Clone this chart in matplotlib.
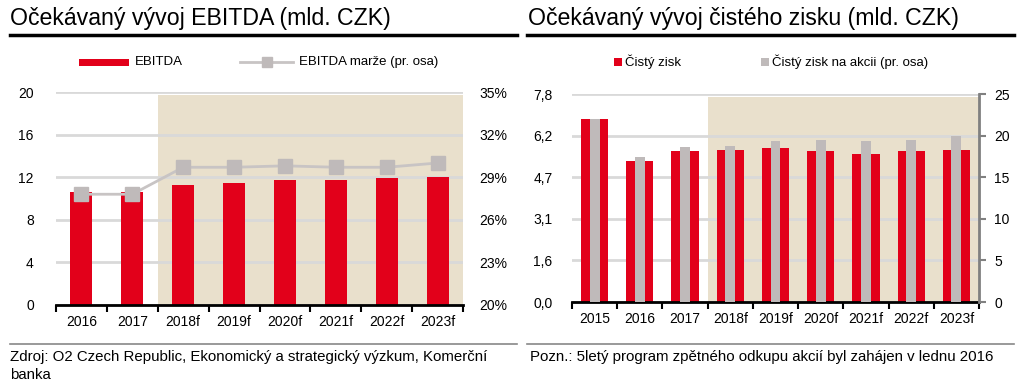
import matplotlib
matplotlib.use("Agg")
import matplotlib.pyplot as plt
from matplotlib.lines import Line2D
from matplotlib.patches import Rectangle
import numpy as np
from matplotlib import font_manager

plt.rcParams['font.family'] = ['Liberation Sans', 'DejaVu Sans']
names = {f.name for f in font_manager.fontManager.ttflist}
NARROW = ['Liberation Sans Narrow', 'Liberation Sans', 'DejaVu Sans'] if 'Liberation Sans Narrow' in names else ['Liberation Sans', 'DejaVu Sans']

# ---- data ----
ebitda_years = ["2016", "2017", "2018f", "2019f", "2020f", "2021f", "2022f", "2023f"]
ebitda = [10.6, 10.6, 11.3, 11.5, 11.7, 11.7, 11.9, 12.0]
ebitda_margin = [27.8, 27.8, 29.7, 29.7, 29.8, 29.7, 29.7, 30.0]
ebitda_left_ticks = [0, 4, 8, 12, 16, 20]
ebitda_right_ticks = [20, 23, 26, 29, 32, 35]

np_years = ["2015", "2016", "2017", "2018f", "2019f", "2020f", "2021f", "2022f", "2023f"]
net_profit = [6.87, 5.28, 5.65, 5.71, 5.79, 5.67, 5.56, 5.67, 5.71]
eps = [22.0, 17.4, 18.6, 18.8, 19.3, 19.5, 19.3, 19.5, 19.9]
np_left_ticks = [0.0, 1.56, 3.12, 4.68, 6.24, 7.8]
np_left_labels = ["0,0", "1,6", "3,1", "4,7", "6,2", "7,8"]
np_right_ticks = [0, 5, 10, 15, 20, 25]

title_left = "Očekávaný vývoj EBITDA (mld. CZK)"
title_right = "Očekávaný vývoj čistého zisku (mld. CZK)"
source_left = "Zdroj: O2 Czech Republic, Ekonomický a strategický výzkum, Komerční\nbanka"
source_right = "Pozn.: 5letý program zpětného odkupu akcií byl zahájen v lednu 2016"

RED = '#e2001a'
GRAY = '#bfbaba'
LINEGRAY = '#c8c4c4'
BEIGE = '#e9e0cc'
GRID = '#d9d9d9'
W, H = 1024, 392

fig = plt.figure(figsize=(10.24, 3.92), dpi=100)

def fx(px): return px / W
def fy(py): return 1 - py / H

# titles and rules
fig.text(fx(10), fy(18), title_left, fontsize=16.7, va='center', ha='left')
fig.text(fx(528), fy(18), title_right, fontsize=16.7, va='center', ha='left')
fig.add_artist(Line2D([fx(10), fx(517)], [fy(35), fy(35)], color='black', lw=2.5))
fig.add_artist(Line2D([fx(527), fx(1014)], [fy(35), fy(35)], color='black', lw=2.5))
fig.add_artist(Line2D([fx(10), fx(517)], [fy(344), fy(344)], color='#888888', lw=1.2))
fig.add_artist(Line2D([fx(527), fx(1014)], [fy(344), fy(344)], color='#888888', lw=1.2))
fig.text(fx(10), fy(350), source_left, fontsize=10.8, va='top', ha='left', family=NARROW, linespacing=1.4)
fig.text(fx(530), fy(350), source_right, fontsize=10.8, va='top', ha='left', family=NARROW)

# ---- left chart ----
ax = fig.add_axes([fx(56), fy(305), fx(463 - 56), (305 - 92) / H])
x = np.arange(len(ebitda_years))
ax.axvspan(1.5, len(x) - 0.5, ymin=0, ymax=0.985, color=BEIGE, lw=0, zorder=0)
for t in ebitda_left_ticks:
    ax.axhline(t, color=GRID, lw=2, zorder=1)
ax.bar(x, ebitda, width=0.43, color=RED, zorder=2)
ax.set_xlim(-0.5, len(x) - 0.5)
ax.set_ylim(0, 20)
ax.set_yticks(ebitda_left_ticks)
ax.set_yticklabels([str(t) for t in ebitda_left_ticks])
ax.tick_params(axis='y', length=0, labelsize=10, pad=16)
ax.set_xticks(np.arange(-0.5, len(x), 1.0))
ax.set_xticklabels([])
ax.set_xticks(x, minor=True)
ax.set_xticklabels(ebitda_years, minor=True, family=NARROW, fontsize=10)
ax.tick_params(axis='x', which='major', length=5, width=1.5, color='black', direction='out')
ax.tick_params(axis='x', which='minor', length=0, pad=7)
for s in ['left', 'right', 'top']:
    ax.spines[s].set_visible(False)
ax.spines['bottom'].set_linewidth(2)
ax.spines['bottom'].set_zorder(5)

ax2 = ax.twinx()
ax2.plot(x, ebitda_margin, color=LINEGRAY, lw=2, marker='s', markersize=10,
         markerfacecolor=GRAY, markeredgecolor=GRAY, zorder=3)
ax2.set_ylim(20, 35)
ax2.set_yticks(ebitda_right_ticks)
ax2.set_yticklabels([f"{t}%" for t in ebitda_right_ticks])
ax2.tick_params(axis='y', length=0, labelsize=10, pad=12)
for s in ['left', 'right', 'top', 'bottom']:
    ax2.spines[s].set_visible(False)

# legend left
fig.add_artist(Rectangle((fx(79), fy(66)), fx(50), 7 / H, color=RED, lw=0))
fig.text(fx(135), fy(62), "EBITDA", fontsize=9.5, va='center', family=NARROW)
fig.add_artist(Line2D([fx(240), fx(293)], [fy(62), fy(62)], color=LINEGRAY, lw=2))
fig.add_artist(Line2D([fx(266.5)], [fy(62)], color=GRAY, marker='s', markersize=7, lw=0))
fig.text(fx(299), fy(62), "EBITDA marže (pr. osa)", fontsize=9.5, va='center', family=NARROW)

# ---- right chart ----
bx = fig.add_axes([fx(572), fy(302), fx(979 - 572), (302 - 94) / H])
x2 = np.arange(len(np_years))
bx.axvspan(2.5, len(x2) - 0.5, ymin=0, ymax=0.985, color=BEIGE, lw=0, zorder=0)
for t in np_left_ticks:
    bx.axhline(t, color=GRID, lw=2, zorder=1)
bx.bar(x2, net_profit, width=0.6, color=RED, zorder=2)
bx.set_xlim(-0.5, len(x2) - 0.5)
bx.set_ylim(0, 7.8)
bx.set_yticks(np_left_ticks)
bx.set_yticklabels(np_left_labels)
bx.tick_params(axis='y', length=0, labelsize=10, pad=14)
bx.set_xticks(np.arange(-0.5, len(x2), 1.0))
bx.set_xticklabels([])
bx.set_xticks(x2, minor=True)
bx.set_xticklabels(np_years, minor=True, family=NARROW, fontsize=10)
bx.tick_params(axis='x', which='major', length=5, width=1.5, color='black', direction='out')
bx.tick_params(axis='x', which='minor', length=0, pad=7)
for s in ['left', 'right', 'top']:
    bx.spines[s].set_visible(False)
bx.spines['bottom'].set_linewidth(2)
bx.spines['bottom'].set_zorder(5)

bx2 = bx.twinx()
bx2.bar(x2, eps, width=0.22, color=GRAY, zorder=3)
bx2.set_ylim(0, 25)
bx2.set_yticks(np_right_ticks)
bx2.tick_params(axis='y', length=5, width=1.5, color='#808080', labelsize=10, pad=6)
for s in ['left', 'top', 'bottom']:
    bx2.spines[s].set_visible(False)
bx2.spines['right'].set_color('#808080')
bx2.spines['right'].set_linewidth(2)

# legend right
fig.add_artist(Rectangle((fx(614), fy(66)), 8 / W, 8 / H, color=RED, lw=0))
fig.text(fx(625), fy(62), "Čistý zisk", fontsize=9.5, va='center', family=NARROW)
fig.add_artist(Rectangle((fx(761), fy(66)), 8 / W, 8 / H, color=GRAY, lw=0))
fig.text(fx(772), fy(62), "Čistý zisk na akcii (pr. osa)", fontsize=9.5, va='center', family=NARROW)

fig.savefig("out.png", dpi=100)
